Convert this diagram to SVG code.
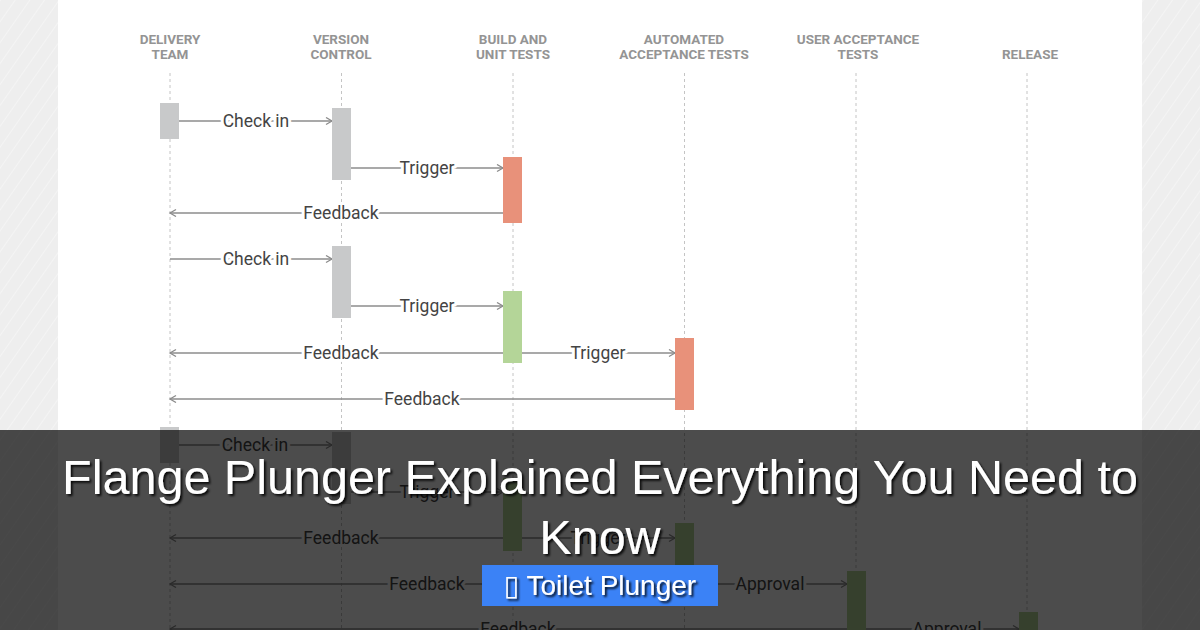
<svg xmlns="http://www.w3.org/2000/svg" width="1200" height="630" viewBox="0 0 1200 630">
<defs>
<style>
.hdr{font-family:Roboto,"Liberation Sans",sans-serif;font-weight:700;font-size:13.5px;fill:#949494;text-anchor:middle}
.life{stroke:#c4c4c4;stroke-width:1;stroke-dasharray:3 3;fill:none}
.msg{stroke:#8c8c8c;stroke-width:1.3;fill:none;marker-end:url(#arr)}
.lbl{font-family:Roboto,"Liberation Sans",sans-serif;font-size:17.5px;fill:#444;text-anchor:middle;stroke:#fff;stroke-width:6px;paint-order:stroke;stroke-linejoin:round}
.gray{fill:#c8c9ca}
.orange{fill:#e8917a}
.green{fill:#b4d598}
.title{font-family:"Liberation Sans",Arial,sans-serif;font-size:48.5px;fill:#fff;text-anchor:middle;filter:url(#sh)}
.btn{font-family:"Liberation Sans",Arial,"DejaVu Sans",sans-serif;font-size:28px;fill:#fff;text-anchor:middle;filter:url(#sh)}
</style>
<marker id="arr" markerWidth="10" markerHeight="10" refX="7" refY="4" orient="auto" markerUnits="userSpaceOnUse">
<path d="M1,0.5 L7,4 L1,7.5" fill="none" stroke="#8c8c8c" stroke-width="1.3"/>
</marker>
<pattern id="tex" width="12" height="12" patternUnits="userSpaceOnUse" patternTransform="rotate(35)">
<rect width="12" height="12" fill="#eeeeee"/>
<line x1="0" y1="0" x2="0" y2="12" stroke="#f4f4f4" stroke-width="2"/>
</pattern>
<filter id="sh" x="-5%" y="-20%" width="110%" height="150%">
<feDropShadow dx="2" dy="2" stdDeviation="1" flood-color="#000" flood-opacity="0.85"/>
</filter>
</defs>

<rect width="1200" height="630" fill="url(#tex)"/>
<rect x="58" y="0" width="1084" height="630" fill="#fff"/>

<g id="lane-delivery">
<text class="hdr" x="170" y="44">DELIVERY</text>
<text class="hdr" x="170" y="59">TEAM</text>
<line class="life" x1="170" y1="73" x2="170" y2="630"/>
</g>
<g id="lane-version">
<text class="hdr" x="341" y="44">VERSION</text>
<text class="hdr" x="341" y="59">CONTROL</text>
<line class="life" x1="341.5" y1="73" x2="341.5" y2="630"/>
</g>
<g id="lane-build">
<text class="hdr" x="513" y="44">BUILD AND</text>
<text class="hdr" x="513" y="59">UNIT TESTS</text>
<line class="life" x1="513" y1="73" x2="513" y2="630"/>
</g>
<g id="lane-automated">
<text class="hdr" x="684" y="44">AUTOMATED</text>
<text class="hdr" x="684" y="59">ACCEPTANCE TESTS</text>
<line class="life" x1="684.5" y1="73" x2="684.5" y2="630"/>
</g>
<g id="lane-uat">
<text class="hdr" x="858" y="44">USER ACCEPTANCE</text>
<text class="hdr" x="858" y="59">TESTS</text>
<line class="life" x1="856" y1="73" x2="856" y2="630"/>
</g>
<g id="lane-release">
<text class="hdr" x="1030" y="59">RELEASE</text>
<line class="life" x1="1027" y1="73" x2="1027" y2="630"/>
</g>

<g id="connectors">
<line class="msg" x1="179" y1="121" x2="332" y2="121"/>
<line class="msg" x1="351" y1="168" x2="503" y2="168"/>
<line class="msg" x1="503" y1="213" x2="170" y2="213"/>
<line class="msg" x1="170" y1="259" x2="332" y2="259"/>
<line class="msg" x1="351" y1="306" x2="503" y2="306"/>
<line class="msg" x1="503" y1="353" x2="170" y2="353"/>
<line class="msg" x1="522" y1="353" x2="675" y2="353"/>
<line class="msg" x1="675" y1="399" x2="170" y2="399"/>
<line class="msg" x1="179" y1="445" x2="332" y2="445"/>
<line class="msg" x1="351" y1="492" x2="503" y2="492"/>
<line class="msg" x1="503" y1="538" x2="170" y2="538"/>
<line class="msg" x1="522" y1="538" x2="675" y2="538"/>
<line class="msg" x1="675" y1="584" x2="170" y2="584"/>
<line class="msg" x1="694" y1="584" x2="847" y2="584"/>
<line class="msg" x1="847" y1="629" x2="170" y2="629"/>
<line class="msg" x1="866" y1="629" x2="1019" y2="629"/>
<text class="lbl" x="256" y="127">Check in</text>
<text class="lbl" x="427" y="174">Trigger</text>
<text class="lbl" x="341" y="219">Feedback</text>
<text class="lbl" x="256" y="265">Check in</text>
<text class="lbl" x="427" y="312">Trigger</text>
<text class="lbl" x="341" y="359">Feedback</text>
<text class="lbl" x="598" y="359">Trigger</text>
<text class="lbl" x="422" y="405">Feedback</text>
<text class="lbl" x="255" y="451">Check in</text>
<text class="lbl" x="427" y="498">Trigger</text>
<text class="lbl" x="341" y="544">Feedback</text>
<text class="lbl" x="598" y="544">Trigger</text>
<text class="lbl" x="427" y="590">Feedback</text>
<text class="lbl" x="770" y="590">Approval</text>
<text class="lbl" x="518" y="635">Feedback</text>
<text class="lbl" x="947" y="635">Approval</text>
</g>

<g id="act-delivery-1"><rect class="gray" x="160" y="103" width="19" height="36"/></g>
<g id="act-version-1"><rect class="gray" x="332" y="108" width="19" height="72"/></g>
<g id="act-build-1"><rect class="orange" x="503" y="157" width="19" height="66"/></g>
<g id="act-version-2"><rect class="gray" x="332" y="246" width="19" height="72"/></g>
<g id="act-build-2"><rect class="green" x="503" y="291" width="19" height="72"/></g>
<g id="act-automated-2"><rect class="orange" x="675" y="338" width="19" height="72"/></g>
<g id="act-delivery-3"><rect class="gray" x="160" y="427" width="19" height="36"/></g>
<g id="act-version-3"><rect class="gray" x="332" y="432" width="19" height="72"/></g>
<g id="act-build-3"><rect class="green" x="503" y="478" width="19" height="73"/></g>
<g id="act-automated-3"><rect class="green" x="675" y="523" width="19" height="73"/></g>
<g id="act-uat-3"><rect class="green" x="847" y="571" width="19" height="72"/></g>
<g id="act-release-3"><rect class="green" x="1019" y="612" width="19" height="30"/></g>

<rect x="0" y="430" width="1200" height="200" fill="#000" fill-opacity="0.7"/>
<text class="title" x="600" y="494">Flange Plunger Explained Everything You Need to</text>
<text class="title" x="600" y="554">Know</text>
<rect x="482" y="565" width="236" height="41" fill="#3b82f6"/>
<text class="btn" x="600" y="595">▯ Toilet Plunger</text>
</svg>
